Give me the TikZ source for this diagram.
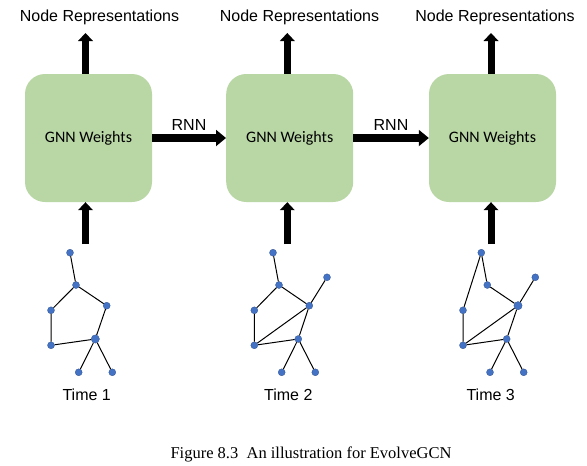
\documentclass[tikz,border=0pt]{standalone}
\usepackage{fontspec}
\setmainfont{Liberation Serif}
\newfontfamily\arialf{Liberation Sans}
\newfontfamily\calibrif{Carlito}
\usetikzlibrary{arrows.meta,calc}
\definecolor{boxgreen}{RGB}{185,214,165}
\definecolor{dotblue}{RGB}{68,114,196}
\definecolor{dotedge}{RGB}{47,82,143}
\begin{document}
\begin{tikzpicture}[x=1pt,y=-1pt,
  gnnbox/.style={fill=boxgreen, rounded corners=20pt, minimum width=127pt, minimum height=128pt, inner sep=0pt, font=\calibrif\fontsize{16}{19}\selectfont},
  lbl/.style={font=\arialf\fontsize{16}{19}\selectfont, anchor=base, inner sep=0pt},
  uparrow/.style={line width=7pt, -{Triangle[width=15pt,length=8pt,line width=0pt]}},
  rnnarrow/.style={line width=8.5pt, -{Triangle[width=16.5pt,length=10pt,line width=0pt]}},
  gv/.style={circle, fill=dotblue, draw=dotedge, line width=0.3pt, inner sep=0pt, minimum size=7pt},
  gvbig/.style={gv, minimum size=8.3pt},
  ge/.style={line width=1pt, black}
]
\useasboundingbox (0,0) rectangle (587,466);

% GNN boxes
\node[gnnbox] (b1) at (88.5,138) {GNN Weights};
\node[gnnbox] (b2) at (289.7,138) {GNN Weights};
\node[gnnbox] (b3) at (492.5,138) {GNN Weights};

% top labels
\node[lbl] (nr1) at (99.5,21.7) {Node Representations};
\node[lbl] (nr2) at (299.5,21.7) {Node Representations};
\node[lbl] (nr3) at (495,21.7) {Node Representations};

% arrow ends
\coordinate (t1) at (85.5,33);
\coordinate (t2) at (287.3,33);
\coordinate (t3) at (491,33);
\coordinate (s1) at (85.5,244);
\coordinate (s2) at (287.3,244);
\coordinate (s3) at (491,244);

\draw[uparrow] (t1 |- b1.north) -- (t1);
\draw[uparrow] (t2 |- b2.north) -- (t2);
\draw[uparrow] (t3 |- b3.north) -- (t3);
\draw[uparrow] (s1) -- (s1 |- b1.south);
\draw[uparrow] (s2) -- (s2 |- b2.south);
\draw[uparrow] (s3) -- (s3 |- b3.south);

% RNN arrows
\draw[rnnarrow] (b1.east) -- (b2.west);
\draw[rnnarrow] (b2.east) -- (b3.west);
\node[lbl] (r1) at (189,130) {RNN};
\node[lbl] (r2) at (391,130) {RNN};

% Graph 1
\node[gv] (g1a) at (70,252.7) {};
\node[gv] (g1b) at (76,285) {};
\node[gv] (g1c) at (51,310.3) {};
\node[gv] (g1d) at (106.7,305.7) {};
\node[gv] (g1e) at (51,345.3) {};
\node[gvbig] (g1f) at (95.3,339) {};
\node[gv] (g1g) at (78.7,372.3) {};
\node[gv] (g1h) at (112.3,372.3) {};
\draw[ge] (g1a) -- (g1b) (g1b) -- (g1c) (g1b) -- (g1d) (g1c) -- (g1e)
          (g1e) -- (g1f) (g1d) -- (g1f) (g1f) -- (g1g) (g1f) -- (g1h);

% Graph 2
\node[gv] (g2a) at (273,252.7) {};
\node[gv] (g2b) at (279,285) {};
\node[gv] (g2c) at (254.3,310.3) {};
\node[gv] (g2d) at (309.3,305.7) {};
\node[gv] (g2e) at (254.3,345.3) {};
\node[gv] (g2f) at (298.3,339) {};
\node[gv] (g2g) at (281.7,372.3) {};
\node[gv] (g2h) at (315.3,372.3) {};
\node[gv] (g2i) at (327,277.3) {};
\draw[ge] (g2a) -- (g2b) (g2b) -- (g2c) (g2b) -- (g2d) (g2c) -- (g2e)
          (g2e) -- (g2f) (g2d) -- (g2f) (g2f) -- (g2g) (g2f) -- (g2h)
          (g2d) -- (g2i) (g2e) -- (g2d);

% Graph 3
\node[gv] (g3a) at (481.3,252.7) {};
\node[gv] (g3b) at (487.3,285) {};
\node[gv] (g3c) at (463,310.3) {};
\node[gvbig] (g3d) at (518,305.7) {};
\node[gv] (g3e) at (463,345.3) {};
\node[gv] (g3f) at (506.7,339) {};
\node[gv] (g3g) at (490,372.3) {};
\node[gv] (g3h) at (523.7,372.3) {};
\node[gv] (g3i) at (535.3,277.3) {};
\draw[ge] (g3a) -- (g3b) (g3a) -- (g3c) (g3b) -- (g3d) (g3c) -- (g3e)
          (g3e) -- (g3f) (g3d) -- (g3f) (g3f) -- (g3g) (g3f) -- (g3h)
          (g3d) -- (g3i) (g3e) -- (g3d);

% time labels
\node[lbl] (tl1) at (86.7,400.7) {Time 1};
\node[lbl] (tl2) at (288.3,400.7) {Time 2};
\node[lbl] (tl3) at (490.7,400.7) {Time 3};

% caption
\node[anchor=base, inner sep=0pt, font=\fontsize{16.5}{19}\selectfont] (cap) at (311,458.3) {Figure 8.3\ \ An illustration for EvolveGCN};
\end{tikzpicture}
\end{document}
